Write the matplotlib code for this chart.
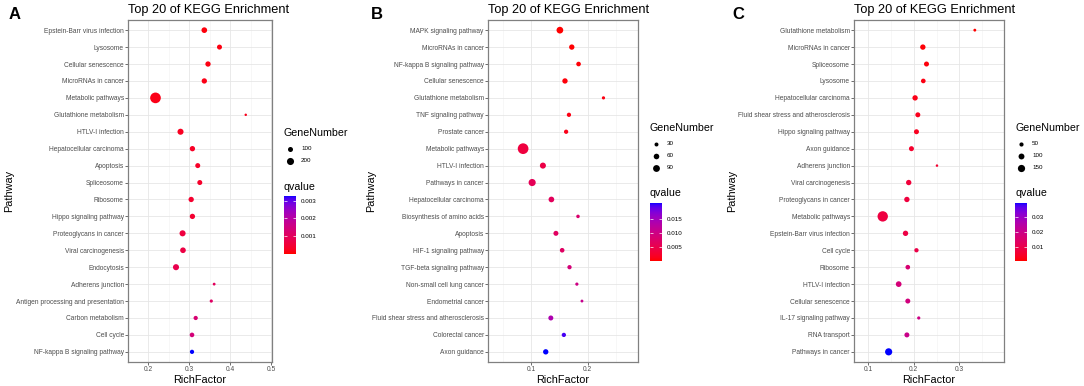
import numpy as np
import matplotlib
matplotlib.use('Agg')
import matplotlib.pyplot as plt
from matplotlib.colors import ListedColormap, Normalize
from matplotlib.cm import ScalarMappable
from matplotlib.ticker import FormatStrFormatter

plt.rcParams['font.family'] = ['Liberation Sans', 'DejaVu Sans']

# ---- data (listed top to bottom as in the figure) ----
a_paths = ['Epstein-Barr virus infection', 'Lysosome', 'Cellular senescence', 'MicroRNAs in cancer',
           'Metabolic pathways', 'Glutathione metabolism', 'HTLV-I infection', 'Hepatocellular carcinoma',
           'Apoptosis', 'Spliceosome', 'Ribosome', 'Hippo signaling pathway', 'Proteoglycans in cancer',
           'Viral carcinogenesis', 'Endocytosis', 'Adherens junction', 'Antigen processing and presentation',
           'Carbon metabolism', 'Cell cycle', 'NF-kappa B signaling pathway']
a_rich = [0.337, 0.374, 0.346, 0.337, 0.218, 0.438, 0.279, 0.308, 0.321, 0.326,
          0.305, 0.308, 0.284, 0.285, 0.268, 0.361, 0.354, 0.316, 0.307, 0.307]
a_genes = [128, 100, 113, 113, 453, 24, 147, 113, 100, 100,
           113, 113, 147, 128, 147, 32, 41, 72, 85, 72]
a_q = [0.00008, 0.0001, 0.00012, 0.00014, 0.00015, 0.0002, 0.00025, 0.0003, 0.00032, 0.00035,
       0.0004, 0.00042, 0.0006, 0.00065, 0.0008, 0.001, 0.0011, 0.0013, 0.0014, 0.00326]

b_paths = ['MAPK signaling pathway', 'MicroRNAs in cancer', 'NF-kappa B signaling pathway', 'Cellular senescence',
           'Glutathione metabolism', 'TNF signaling pathway', 'Prostate cancer', 'Metabolic pathways',
           'HTLV-I infection', 'Pathways in cancer', 'Hepatocellular carcinoma', 'Biosynthesis of amino acids',
           'Apoptosis', 'HIF-1 signaling pathway', 'TGF-beta signaling pathway', 'Non-small cell lung cancer',
           'Endometrial cancer', 'Fluid shear stress and atherosclerosis', 'Colorectal cancer', 'Axon guidance']
b_rich = [0.151, 0.172, 0.184, 0.160, 0.228, 0.167, 0.162, 0.086, 0.121, 0.102,
          0.136, 0.183, 0.144, 0.155, 0.168, 0.181, 0.190, 0.135, 0.158, 0.126]
b_genes = [87, 55, 41, 55, 20, 35, 35, 220, 70, 98,
           62, 24, 48, 41, 35, 20, 16, 48, 35, 55]
b_q = [0.0002, 0.0003, 0.0005, 0.0006, 0.0008, 0.001, 0.0012, 0.004, 0.0045, 0.006,
       0.0065, 0.008, 0.0068, 0.007, 0.009, 0.010, 0.011, 0.014, 0.020, 0.0209]

c_paths = ['Glutathione metabolism', 'MicroRNAs in cancer', 'Spliceosome', 'Lysosome',
           'Hepatocellular carcinoma', 'Fluid shear stress and atherosclerosis', 'Hippo signaling pathway',
           'Axon guidance', 'Adherens junction', 'Viral carcinogenesis', 'Proteoglycans in cancer',
           'Metabolic pathways', 'Epstein-Barr virus infection', 'Cell cycle', 'Ribosome', 'HTLV-I infection',
           'Cellular senescence', 'IL-17 signaling pathway', 'RNA transport', 'Pathways in cancer']
c_rich = [0.334, 0.220, 0.228, 0.221, 0.203, 0.209, 0.206, 0.195, 0.251, 0.189,
          0.185, 0.132, 0.182, 0.206, 0.187, 0.167, 0.187, 0.211, 0.185, 0.145]
c_genes = [24, 83, 72, 62, 83, 72, 72, 72, 18, 83,
           83, 310, 83, 53, 62, 94, 72, 30, 72, 148]
c_q = [0.0007, 0.0012, 0.0015, 0.002, 0.0025, 0.003, 0.0035, 0.005, 0.0055, 0.007,
       0.0075, 0.008, 0.0085, 0.009, 0.016, 0.017, 0.018, 0.019, 0.020, 0.0393]


# red -> blue gradient interpolated in CIELAB (like ggplot's scale_colour_gradient)
M = np.array([[0.4124, 0.3576, 0.1805], [0.2126, 0.7152, 0.0722], [0.0193, 0.1192, 0.9505]])
WHITE = np.array([0.95047, 1.0, 1.08883])


def rgb2lab(rgb):
    c = np.asarray(rgb, float)
    lin = np.where(c <= 0.04045, c / 12.92, ((c + 0.055) / 1.055) ** 2.4)
    xyz = M @ lin / WHITE
    f = np.where(xyz > 0.008856, np.cbrt(xyz), 7.787 * xyz + 16 / 116)
    return np.array([116 * f[1] - 16, 500 * (f[0] - f[1]), 200 * (f[1] - f[2])])


def lab2rgb(lab):
    L, a, b = lab.T
    fy = (L + 16) / 116
    f = np.stack([fy + a / 500, fy, fy - b / 200], axis=1)
    xyz = np.where(f > 0.206893, f ** 3, (f - 16 / 116) / 7.787) * WHITE
    lin = np.clip(xyz @ np.linalg.inv(M).T, 0, None)
    rgb = np.where(lin <= 0.0031308, 12.92 * lin, 1.055 * lin ** (1 / 2.4) - 0.055)
    return np.clip(rgb, 0, 1)


t = np.linspace(0, 1, 256)[:, None]
cmap = ListedColormap(lab2rgb(rgb2lab([1, 0, 0]) * (1 - t) + rgb2lab([0, 0, 1]) * t))

W, H = 1084, 386
fig = plt.figure(figsize=(W / 100, H / 100), dpi=100)
ov = fig.add_axes([0, 0, 1, 1], zorder=5)
ov.set_xlim(0, W)
ov.set_ylim(H, 0)
ov.axis('off')
ov.patch.set_alpha(0)

panels = [
    dict(letter='A', paths=a_paths, rich=a_rich, genes=a_genes, q=a_q,
         left=128, right=272, lx=9, xlim=(0.151, 0.502), ticks=[0.2, 0.3, 0.4, 0.5],
         minor=[0.25, 0.35, 0.45], qlim=(0.00001, 0.00326), qticks=[0.001, 0.002, 0.003],
         qfmt='%.3f', breaks=[100, 200], k=0.13, legx=284, legtop=133),
    dict(letter='B', paths=b_paths, rich=b_rich, genes=b_genes, q=b_q,
         left=488, right=638, lx=371, xlim=(0.024, 0.289), ticks=[0.1, 0.2],
         minor=[0.05, 0.15, 0.25], qlim=(0.0002, 0.0209), qticks=[0.005, 0.010, 0.015],
         qfmt='%.3f', breaks=[30, 60, 90], k=0.27, legx=650, legtop=128),
    dict(letter='C', paths=c_paths, rich=c_rich, genes=c_genes, q=c_q,
         left=854, right=1004, lx=732, xlim=(0.069, 0.398), ticks=[0.1, 0.2, 0.3],
         minor=[0.15, 0.25, 0.35], qlim=(0.0007, 0.0393), qticks=[0.01, 0.02, 0.03],
         qfmt='%.2f', breaks=[50, 100, 150], k=0.18, legx=1015, legtop=128),
]

top, bottom = 20, 362
for p in panels:
    n = len(p['paths'])
    ax = fig.add_axes([p['left'] / W, (H - bottom) / H, (p['right'] - p['left']) / W, (bottom - top) / H])
    norm = Normalize(*p['qlim'])
    y = np.arange(n)[::-1]
    ax.scatter(p['rich'], y, s=np.array(p['genes']) * p['k'], c=cmap(norm(np.array(p['q']))),
               linewidths=0, zorder=3)
    ax.set_xlim(*p['xlim'])
    ax.set_ylim(-0.6, n - 0.4)
    ax.set_xticks(p['ticks'])
    ax.set_xticklabels([f'{v:g}' for v in p['ticks']])
    ax.set_xticks(p['minor'], minor=True)
    ax.set_yticks(y)
    ax.set_yticklabels(p['paths'])
    ax.grid(True, which='major', color='#e6e6e6', lw=0.6, zorder=0)
    ax.grid(True, which='minor', axis='x', color='#f2f2f2', lw=0.4, zorder=0)
    ax.set_axisbelow(True)
    ax.tick_params(which='major', labelsize=4.8, labelcolor='#4d4d4d', color='#333333',
                   length=2, width=0.5, pad=1)
    ax.tick_params(which='minor', length=0)
    for sp in ax.spines.values():
        sp.set_color('#808080')
        sp.set_linewidth(0.9)

    cx = (p['left'] + p['right']) / 2
    ov.text(p['left'], 12.8, 'Top 20 of KEGG Enrichment', fontsize=9.2, va='baseline', ha='left')
    ov.text(p['lx'], 19.3, p['letter'], fontsize=12, fontweight='bold', va='baseline', ha='left')
    ov.text(cx, 383, 'RichFactor', fontsize=7.8, va='baseline', ha='center')
    ov.text(p['lx'], (top + bottom) / 2, 'Pathway', fontsize=7.8, rotation=90, va='center', ha='center')

    # size legend
    lx, ly = p['legx'], p['legtop']
    ov.text(lx, ly, 'GeneNumber', fontsize=7.7, va='center', ha='left')
    dy = ly + 15.5
    for b in p['breaks']:
        ov.scatter([lx + 6], [dy], s=b * p['k'], c='black', linewidths=0)
        ov.text(lx + 17, dy, str(b), fontsize=4.5, va='center', ha='left')
        dy += 12
    qy = dy - 12 + 26
    ov.text(lx, qy, 'qvalue', fontsize=7.7, va='center', ha='left')
    bar_top = qy + 9.5
    cax = fig.add_axes([lx / W, (H - bar_top - 57.5) / H, 11.5 / W, 57.5 / H])
    cb = fig.colorbar(ScalarMappable(norm=norm, cmap=cmap), cax=cax, ticks=p['qticks'])
    cb.outline.set_visible(False)
    cax.yaxis.set_major_formatter(FormatStrFormatter(p['qfmt']))
    cax.tick_params(left=True, right=True, labelleft=False, labelright=True, direction='in',
                    color='white', length=2.2, width=0.5, labelsize=4.5, pad=4)

fig.savefig('out.png', dpi=100)
